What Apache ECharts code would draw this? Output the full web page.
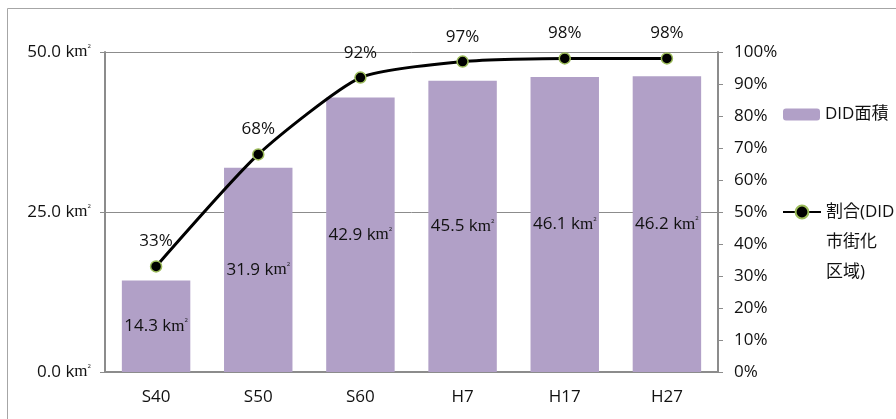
<!DOCTYPE html>
<html><head><meta charset="utf-8">
<script src="https://cdn.jsdelivr.net/npm/echarts@6/dist/echarts.min.js"></script>
<style>html,body{margin:0;padding:0;background:#fff;}#c{width:896px;height:419px;}</style>
</head><body><div id="c"></div>
<script>
const categories = ['S40','S50','S60','H7','H17','H27'];
const areaValues = [14.3, 31.9, 42.9, 45.5, 46.1, 46.2];
const ratioValues = [33, 68, 92, 97, 98, 98];
const leftTicks = [0, 25, 50];
const rightTicks = [0,10,20,30,40,50,60,70,80,90,100];
const barName = 'DID面積';
const lineName = '割合(DID\n市街化\n区域)';

const FONT = '"Open Sans", "Noto Sans CJK JP", sans-serif';
const unitRich = {
  n:{fontSize:17,fontFamily:FONT,color:'#111'},
  m:{fontSize:17,fontFamily:'"Liberation Serif", serif',color:'#111'},
  s:{fontSize:6,fontFamily:FONT,color:'#111',verticalAlign:'top',padding:[0,0,10,0]}
};
function km(v){ return '{n|' + v.toFixed(1) + ' k}{m|m}{s|2}'; }

const chart = echarts.init(document.getElementById('c'));
chart.setOption({
  animation:false,
  textStyle:{fontFamily:FONT},
  graphic:[{type:'rect',shape:{x:7.5,y:8.5,width:1000,height:1000},style:{fill:'none',stroke:'#a6a6a6',lineWidth:1}}],
  grid:{left:105,right:178,top:52,bottom:47},
  legend:[
    {data:[barName],orient:'vertical',left:783,top:106,padding:0,itemWidth:37,itemHeight:12,
     textStyle:{fontSize:17,color:'#111',fontFamily:FONT}},
    {data:[lineName],orient:'vertical',left:782,top:137,padding:0,itemWidth:38,itemHeight:16,
     formatter:n=>'\n\n'+n,
     textStyle:{fontSize:17,color:'#111',fontFamily:FONT,lineHeight:30}}
  ],
  xAxis:{type:'category',data:categories,
    axisLine:{lineStyle:{color:'#8c8c8c',width:2}},
    axisTick:{show:false},
    axisLabel:{fontSize:17,color:'#111',margin:17}},
  yAxis:[
    {type:'value',min:leftTicks[0],max:leftTicks[leftTicks.length-1],interval:25,
     axisLine:{show:true,lineStyle:{color:'#8c8c8c',width:2}},
     axisTick:{show:true,lineStyle:{color:'#8c8c8c'},length:5},
     splitLine:{lineStyle:{color:'#8c8c8c',width:1}},
     axisLabel:{formatter:km,rich:unitRich,margin:14}},
    {type:'value',min:rightTicks[0],max:rightTicks[rightTicks.length-1],interval:10,position:'right',
     axisLine:{show:true,lineStyle:{color:'#8c8c8c',width:2}},
     axisTick:{show:true,lineStyle:{color:'#8c8c8c'},length:5},
     splitLine:{show:false},
     axisLabel:{formatter:v=>v+'%',fontSize:17,color:'#111',margin:16}}
  ],
  series:[
    {name:barName,type:'bar',data:areaValues,yAxisIndex:0,barCategoryGap:'33%',
     itemStyle:{color:'#b1a0c7'},
     label:{show:true,position:'inside',formatter:p=>km(p.value),rich:unitRich}},
    {name:lineName,type:'line',yAxisIndex:1,smooth:0.2,data:ratioValues,
     symbol:'circle',symbolSize:11,
     lineStyle:{color:'#000',width:3},
     itemStyle:{color:'#000',borderColor:'#9bbb59',borderWidth:1.5},
     label:{show:true,position:'top',distance:10,fontSize:17,color:'#111',formatter:p=>p.value+'%'}}
  ]
});
</script></body></html>
